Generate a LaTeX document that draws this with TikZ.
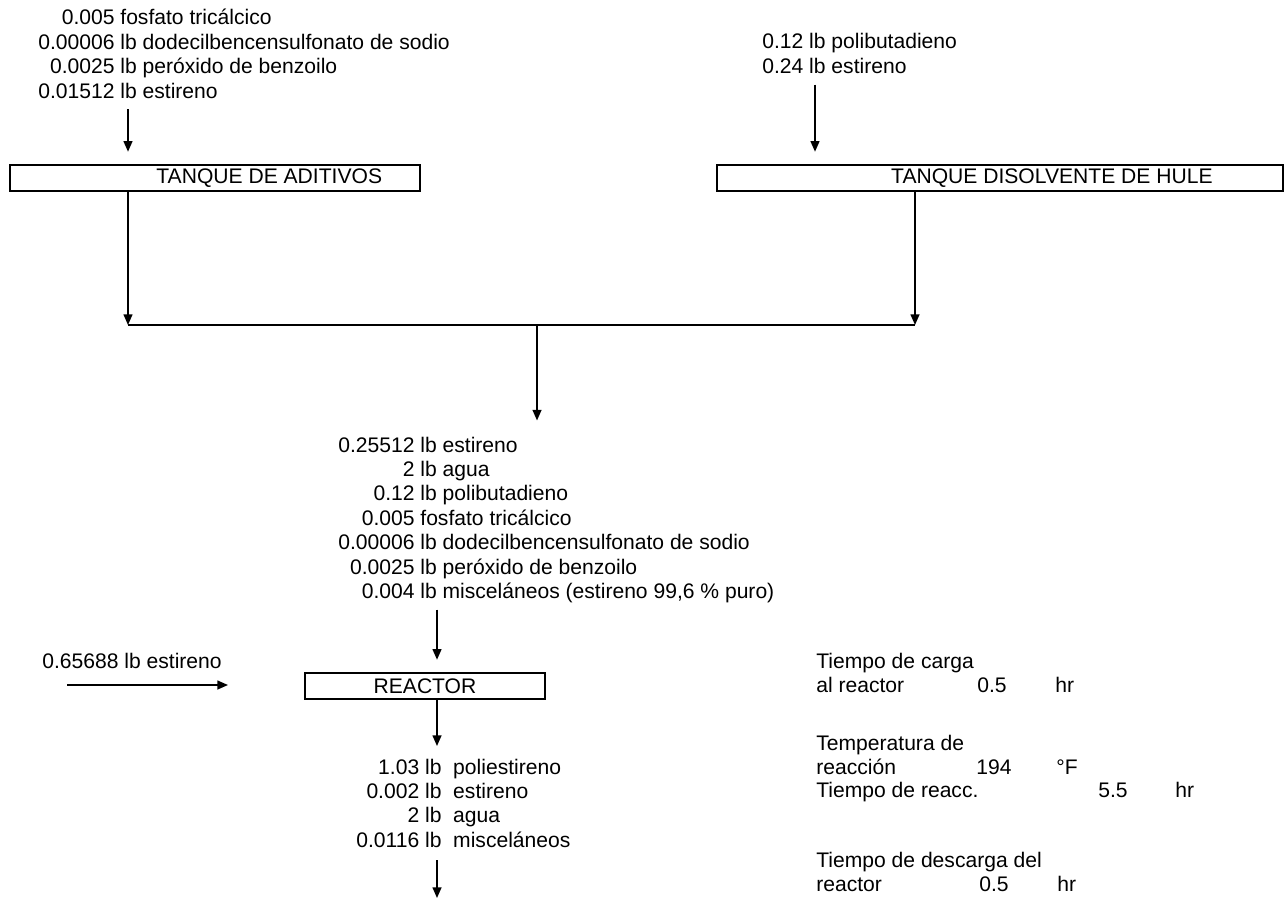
\documentclass[tikz,border=0pt]{standalone}
\usepackage{fontspec}
\setmainfont{Liberation Sans}
\usetikzlibrary{arrows.meta,positioning}

\begin{document}
\begin{tikzpicture}[
    x=0.02cm, y=-0.02cm,
    >={Triangle[length=6pt,width=5pt]},
    every node/.style={font=\fontsize{12}{13.9}\selectfont, inner sep=0pt},
    tank/.style={draw, line width=1.1pt, minimum height=0.52cm},
    flow/.style={anchor=base west, align=left},
    arr/.style={->, line width=0.9pt},
    pipe/.style={line width=0.9pt},
  ]
    \useasboundingbox (0,0) rectangle (1287,912);

    % --- Feeds to the tanks ---
    \node[flow] (inA) at (38,25) {\begin{tabular}[t]{@{}r@{\ }l@{}}
        0.005 & fosfato tricálcico\\
        0.00006 & lb dodecilbencensulfonato de sodio\\
        0.0025 & lb peróxido de benzoilo\\
        0.01512 & lb estireno
      \end{tabular}};
    \node[flow] (inB) at (762,49) {\begin{tabular}[t]{@{}r@{\ }l@{}}
        0.12 & lb polibutadieno\\
        0.24 & lb estireno
      \end{tabular}};

    % --- Tanks ---
    \node[tank, minimum width=8.2cm]   (tkA) at (215,178) {};
    \node[anchor=west, right=2.94cm of tkA.west] (tkA-lbl) {TANQUE DE ADITIVOS};
    \node[tank, minimum width=11.32cm] (tkB) at (1000,178) {};
    \node[anchor=east, left=1.42cm of tkB.east]  (tkB-lbl) {TANQUE DISOLVENTE DE HULE};

    % --- Mixed charge ---
    \node[flow] (inM) at (338,452) {\begin{tabular}[t]{@{}r@{\ }l@{}}
        0.25512 & lb estireno\\
        2 & lb agua\\
        0.12 & lb polibutadieno\\
        0.005 & fosfato tricálcico\\
        0.00006 & lb dodecilbencensulfonato de sodio\\
        0.0025 & lb peróxido de benzoilo\\
        0.004 & lb misceláneos (estireno 99,6 \% puro)
      \end{tabular}};

    % --- Reactor ---
    \node[tank, minimum width=4.8cm] (reactor) at (425,686) {REACTOR};
    \node[flow] (feed) at (42,668) {0.65688 lb estireno};
    \node[flow] (outR) at (356,774) {\begin{tabular}[t]{@{}r@{\ }l@{\ \ }l@{}}
        1.03 & lb & poliestireno\\
        0.002 & lb & estireno\\
        2 & lb & agua\\
        0.0116 & lb & misceláneos
      \end{tabular}};

    % --- Operating data ---
    \node[flow] (carga)  at (816,668) {Tiempo de carga};
    \node[flow] (cargaR) at (816,692) {al reactor};
    \node[flow] (cargaV) at (977,692) {0.5};
    \node[flow] (cargaU) at (1055,692) {hr};
    \node[flow] (temp)   at (816,750) {Temperatura de};
    \node[flow] (tempR)  at (816,774) {reacción};
    \node[flow] (tempV)  at (976,774) {194};
    \node[flow] (tempU)  at (1056,774) {°F};
    \node[flow] (reacc)  at (816,797) {Tiempo de reacc.};
    \node[flow] (reaccV) at (1098,797) {5.5};
    \node[flow] (reaccU) at (1175,797) {hr};
    \node[flow] (desc)   at (816,867) {Tiempo de descarga del};
    \node[flow] (descR)  at (816,891) {reactor};
    \node[flow] (descV)  at (979,891) {0.5};
    \node[flow] (descU)  at (1057,891) {hr};

    % --- Columns and junction ---
    \coordinate (colA) at (128,0);
    \coordinate (colB) at (815,0);
    \coordinate (colM) at (437,0);
    \coordinate (jA) at (128,325);
    \coordinate (jB) at (915,325);
    \coordinate (jM) at (537,325);
    \coordinate (feedA) at (67,685);
    \coordinate (feedB) at (228,685);
    \coordinate (endR) at (437,898);

    % --- Arrows ---
    \draw[arr, shorten <=2pt, shorten >=7pt] (inA.south -| colA) -- (tkA.north -| colA);
    \draw[arr, shorten <=2pt, shorten >=7pt] (inB.south -| colB) -- (tkB.north -| colB);
    \draw[arr] (tkA.south -| colA) -- (jA);
    \draw[arr] (tkB.south -| jB) -- (jB);
    \draw[pipe] (jA) -- (jB);
    \draw[arr, shorten >=8pt] (jM) -- (inM.north -| jM);
    \draw[arr, shorten <=2pt, shorten >=7pt] (inM.south -| colM) -- (reactor.north -| colM);
    \draw[arr] (feedA) -- (feedB);
    \draw[arr, shorten >=6pt] (reactor.south -| colM) -- (outR.north -| colM);
    \draw[arr, shorten <=3pt] (outR.south -| colM) -- (endR);
  \end{tikzpicture}
\end{document}
